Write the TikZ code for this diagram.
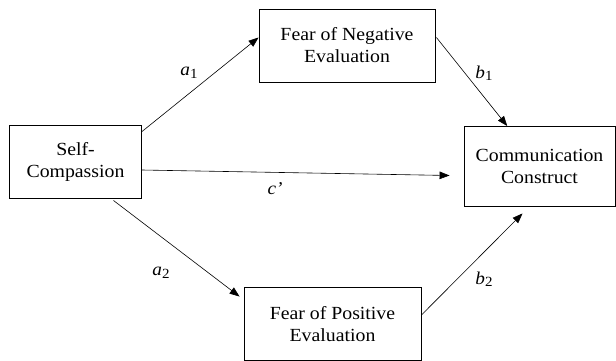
\documentclass[tikz,border=0pt]{standalone}
\usepackage{fontspec}
\setmainfont{Liberation Serif}[FakeStretch=1.07]
\usetikzlibrary{calc,arrows.meta}
\newcommand{\lbl}[2]{\textit{#1}\raisebox{-0.3ex}{\fontsize{14}{14}\selectfont #2}}
\begin{document}
\begin{tikzpicture}[x=1pt,y=-1pt,
  box/.style={draw,line width=0.9pt,rectangle,align=center,inner sep=0pt,
    font=\fontsize{18.5}{22}\selectfont},
  conn/.style={line width=0.6pt,-{Triangle[length=10pt,width=7.5pt]}},
  lab/.style={font=\fontsize{18}{22}\selectfont,inner sep=0pt}]
\useasboundingbox (0,0) rectangle (616,361);
\node[box,minimum width=132pt,minimum height=73pt] (SC) at (75.5,162) {Self-\\Compassion};
\node[box,minimum width=176pt,minimum height=73pt] (FNE) at (347,45.5) {Fear of Negative\\Evaluation};
\node[box,minimum width=151pt,minimum height=80pt] (CC) at (539.5,166.5) {Communication\\Construct};
\node[box,minimum width=177pt,minimum height=73pt] (FPE) at (332.5,324) {Fear of Positive\\Evaluation};
\draw[conn] ($(SC.north east)+(0,6.5)$) -- ($(FNE.west)+(0,-8)$);
\draw[conn] ($(SC.east)+(0,8)$) -- ($(CC.west)+(-14,9)$);
\draw[conn] ($(SC.south east)+(-28.5,1.5)$) -- ($(FPE.north west)+(-4,9.5)$);
\draw[conn] ($(FNE.east)+(1,-8)$) -- ($(CC.north west)+(43.7,0)$);
\draw[conn] ($(FPE.east)+(0,-9)$) -- ($(CC.south)+(-17,6.5)$);
\node[lab] (la1) at (189,73) {\lbl{a}{1}};
\node[lab] (lb1) at (484,73) {\lbl{b}{1}};
\node[lab] (lc) at (275,189) {\textit{c’}};
\node[lab] (la2) at (161,273) {\lbl{a}{2}};
\node[lab] (lb2) at (484,279) {\lbl{b}{2}};
\end{tikzpicture}
\end{document}
